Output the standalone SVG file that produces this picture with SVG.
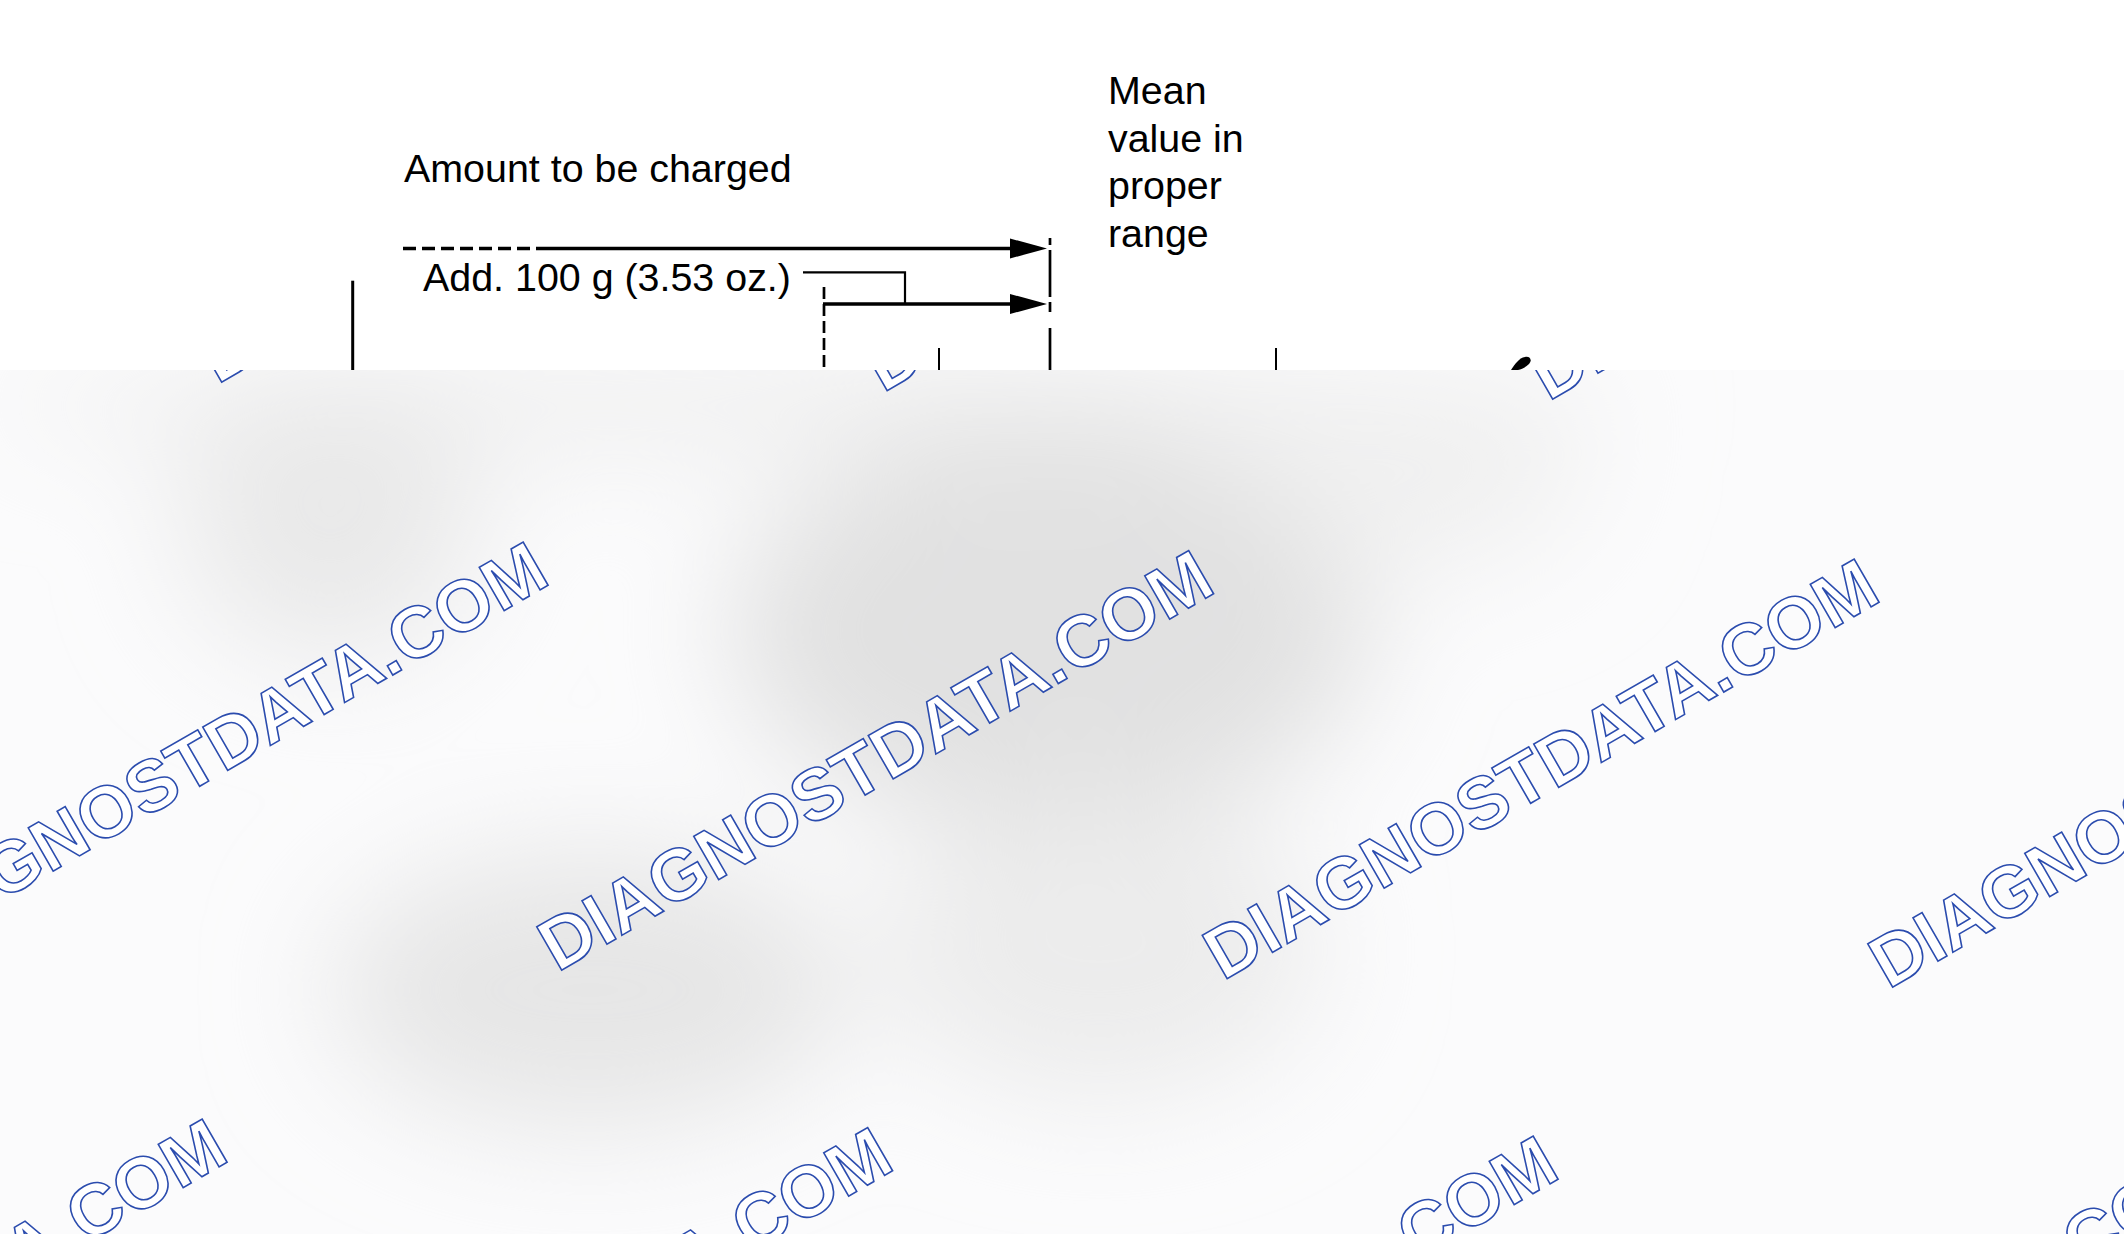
<svg xmlns="http://www.w3.org/2000/svg" width="2124" height="1234" viewBox="0 0 2124 1234">
<style>
.lbl{font-family:"Liberation Sans",Arial,sans-serif;font-size:39.4px;fill:#000}
.wm{font-family:"Liberation Sans",Arial,sans-serif;font-size:72.5px;font-weight:bold;fill:#ffffff;stroke:#2b4cae;stroke-width:1.6}
.thick{stroke:#000;stroke-width:3.3;fill:none}
.thin{stroke:#000;stroke-width:2.2;fill:none}
</style>
<defs>
<marker id="arr" markerUnits="userSpaceOnUse" markerWidth="38" markerHeight="22" viewBox="0 0 38 22" refX="0" refY="11" orient="auto">
<path d="M0,1 L37,11 L0,21 Z" fill="#000"/>
</marker>
<clipPath id="lower"><rect x="0" y="370" width="2124" height="864"/></clipPath>
<filter id="blur" x="-60%" y="-60%" width="220%" height="220%"><feGaussianBlur stdDeviation="60"/></filter>
</defs>
<rect x="0" y="0" width="2124" height="1234" fill="#ffffff"/>

<g id="labels">
<g id="label-amount"><text class="lbl" x="404" y="182">Amount to be charged</text></g>
<g id="label-add"><text class="lbl" x="423" y="290.5">Add. 100 g (3.53 oz.)</text></g>
<g id="label-mean">
<text class="lbl" x="1108" y="104">Mean</text>
<text class="lbl" x="1108" y="151.5">value in</text>
<text class="lbl" x="1108" y="199">proper</text>
<text class="lbl" x="1108" y="246.5">range</text>
</g>
</g>

<g id="connectors">
<path class="thick" d="M403 248.5 H538" stroke-dasharray="13 6"/>
<path class="thick" d="M538 248.5 H1010" marker-end="url(#arr)"/>
<path class="thick" d="M823 304 H1010" marker-end="url(#arr)"/>
<path class="thin" d="M803 272.3 H905 V304"/>
<path d="M824 287 V370" stroke="#000" stroke-width="2.7" stroke-dasharray="12 5"/>
<path d="M352.7 280.7 V370" stroke="#000" stroke-width="3"/>
<path d="M939 348 V370 M1276 348 V370" stroke="#000" stroke-width="2"/>
<path d="M1050 238 V245 M1050 250 V297 M1050 302 V312 M1050 328 V370" stroke="#000" stroke-width="2.7"/>
<path d="M1511 370 C1515 364 1519 358 1525 357 C1531 356 1532 361 1529 364 C1526 367 1522 369 1518 370 Z" fill="#000"/>
</g>

<g id="overlay" clip-path="url(#lower)">
<rect x="0" y="370" width="2124" height="864" fill="#fbfbfc"/>
<g filter="url(#blur)">
<ellipse cx="800" cy="405" rx="820" ry="50" fill="#efefef"/>
<ellipse cx="1050" cy="630" rx="320" ry="200" fill="#e1e1e1"/>
<ellipse cx="330" cy="520" rx="150" ry="140" fill="#e9e9e9"/>
<ellipse cx="590" cy="990" rx="260" ry="140" fill="#e6e6e6"/>
<ellipse cx="1100" cy="950" rx="220" ry="150" fill="#ececec"/>
<ellipse cx="1420" cy="470" rx="160" ry="100" fill="#f0f0f0"/>
</g>
<g id="watermarks">
<text class="wm" transform="translate(217.5 384.6) rotate(-30)">DIAGNOSTDATA.COM</text>
<text class="wm" transform="translate(883 393) rotate(-30)">DIAGNOSTDATA.COM</text>
<text class="wm" transform="translate(1548.5 401.6) rotate(-30)">DIAGNOSTDATA.COM</text>
<text class="wm" transform="translate(-108 964) rotate(-30)">DIAGNOSTDATA.COM</text>
<text class="wm" transform="translate(557.5 972.6) rotate(-30)">DIAGNOSTDATA.COM</text>
<text class="wm" transform="translate(1223 981) rotate(-30)">DIAGNOSTDATA.COM</text>
<text class="wm" transform="translate(1888.5 989.6) rotate(-30)">DIAGNOSTDATA.COM</text>
<text class="wm" transform="translate(-429 1541) rotate(-30)">DIAGNOSTDATA.COM</text>
<text class="wm" transform="translate(236.5 1549.6) rotate(-30)">DIAGNOSTDATA.COM</text>
<text class="wm" transform="translate(902 1558) rotate(-30)">DIAGNOSTDATA.COM</text>
<text class="wm" transform="translate(1567.5 1566.6) rotate(-30)">DIAGNOSTDATA.COM</text>
</g>
</g>
</svg>
